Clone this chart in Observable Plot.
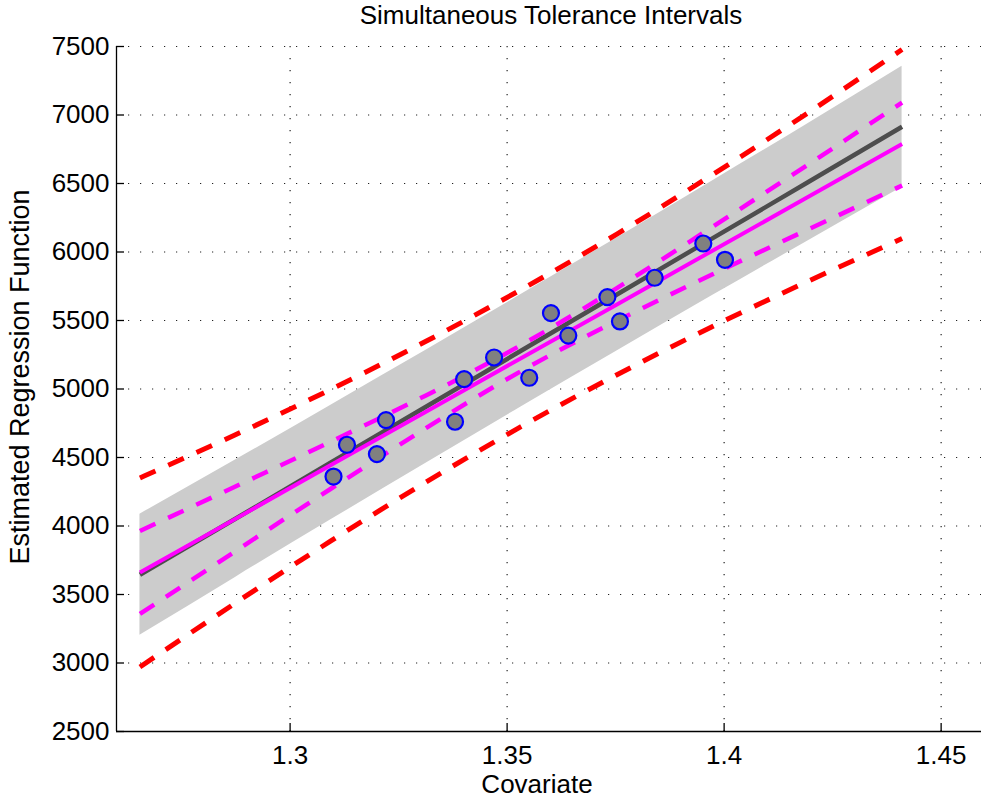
<!DOCTYPE html>
<html>
<head>
<meta charset="utf-8">
<script src="https://cdn.jsdelivr.net/npm/d3@7"></script>
<script src="https://cdn.jsdelivr.net/npm/@observablehq/plot@0.6"></script>
<style>
  body { margin: 0; background: #fff; font-family: "Liberation Sans", Arial, Helvetica, sans-serif; }
  #title { position: relative; width: 981px; height: 30px; }
  #title span { position: absolute; left: 551px; top: 1px; transform: translateX(-50%); font-size: 26px; line-height: 28px; white-space: nowrap; color: #000; }
  svg { display: block; }
</style>
</head>
<body>
<div id="title"><span>Simultaneous Tolerance Intervals</span></div>
<div id="chart"></div>
<script>
// Tick labels
const xTicks = [1.3, 1.35, 1.4, 1.45];
const yTicks = [2500, 3000, 3500, 4000, 4500, 5000, 5500, 6000, 6500, 7000, 7500];

// Observations
const obsX = [1.3100, 1.3131, 1.3200, 1.3221, 1.3380, 1.3401, 1.3470, 1.3551, 1.3601, 1.3641, 1.3760, 1.3731, 1.3840, 1.3952, 1.4002];
const obsY = [4361, 4593, 4525, 4773, 4761, 5072, 5230, 5082, 5554, 5390, 5493, 5671, 5812, 6062, 5943];

// Curves read along the covariate
const curveX     = [1.2654, 1.2874, 1.3093, 1.3313, 1.3532, 1.3752, 1.3971, 1.4191, 1.4410];
const fitBlack   = [3644, 4053, 4462, 4870, 5279, 5688, 6096, 6505, 6914];
const grayUpper  = [4086, 4481, 4880, 5282, 5689, 6100, 6515, 6933, 7356];
const grayLower  = [3202, 3625, 4043, 4458, 4869, 5276, 5678, 6077, 6472];
const fitMagenta = [3661, 4052, 4443, 4834, 5225, 5615, 6006, 6397, 6788];
const magUpper   = [3964, 4288, 4615, 4953, 5320, 5735, 6179, 6633, 7091];
const magLower   = [3358, 3816, 4270, 4714, 5130, 5496, 5834, 6161, 6485];
const redUpper   = [4351, 4666, 4996, 5348, 5725, 6129, 6560, 7011, 7478];
const redLower   = [2971, 3438, 3889, 4320, 4725, 5102, 5453, 5783, 6098];

const rows = curveX.map((x, i) => ({
  x, black: fitBlack[i], gu: grayUpper[i], gl: grayLower[i],
  mag: fitMagenta[i], mu: magUpper[i], ml: magLower[i],
  ru: redUpper[i], rl: redLower[i]
}));
const obs = obsX.map((x, i) => ({x, y: obsY[i]}));

const font = '"Liberation Sans", Arial, Helvetica, sans-serif';
const dash = "17,14";

const chart = Plot.plot({
  width: 981,
  height: 770,
  marginLeft: 116,
  marginRight: 0,
  marginTop: 16,
  marginBottom: 69,
  style: {fontFamily: font, fontSize: "26px", background: "#fff", color: "#000"},
  x: {domain: [1.26, 1.4593]},
  y: {domain: [2500, 7500]},
  marks: [
    Plot.ruleX(xTicks, {x: d => d, stroke: "#222", strokeWidth: 1.2, strokeDasharray: "1.2,10.8"}),
    Plot.ruleY(yTicks, {y: d => d, stroke: "#222", strokeWidth: 1.2, strokeDasharray: "1.2,10.8"}),
    Plot.areaY(rows, {x: "x", y1: "gl", y2: "gu", fill: "#cccccc", curve: "natural"}),
    Plot.line(rows, {x: "x", y: "ru", stroke: "#ff0000", strokeWidth: 5, strokeDasharray: dash, strokeLinecap: "butt", curve: "natural"}),
    Plot.line(rows, {x: "x", y: "rl", stroke: "#ff0000", strokeWidth: 5, strokeDasharray: dash, strokeLinecap: "butt", curve: "natural"}),
    Plot.line(rows, {x: "x", y: "black", stroke: "#4d4d4d", strokeWidth: 4.5, strokeLinecap: "butt"}),
    Plot.line(rows, {x: "x", y: "mag", stroke: "#ff00ff", strokeWidth: 4, strokeLinecap: "butt"}),
    Plot.line(rows, {x: "x", y: "mu", stroke: "#ff00ff", strokeWidth: 4.5, strokeDasharray: dash, strokeLinecap: "butt", curve: "natural"}),
    Plot.line(rows, {x: "x", y: "ml", stroke: "#ff00ff", strokeWidth: 4.5, strokeDasharray: dash, strokeLinecap: "butt", curve: "natural"}),
    Plot.dot(obs, {x: "x", y: "y", r: 8, fill: "#808080", stroke: "#0000ff", strokeWidth: 2.2}),
    Plot.ruleX([1.26], {stroke: "#000", strokeWidth: 1.3}),
    Plot.ruleY([2500], {stroke: "#000", strokeWidth: 1.3}),
    Plot.tickX(xTicks, {x: d => d, insetTop: 677, stroke: "#000", strokeWidth: 1.3}),
    Plot.tickY(yTicks, {y: d => d, insetRight: 857, stroke: "#000", strokeWidth: 1.3}),
    Plot.axisX({ticks: xTicks, tickFormat: d => String(d), tickSize: 0, tickPadding: 14, label: null, fontSize: 26}),
    Plot.axisY({ticks: yTicks, tickFormat: d => String(d), tickSize: 0, tickPadding: 7, label: null, fontSize: 26}),
    Plot.text(["Covariate"], {text: d => d, frameAnchor: "bottom", lineAnchor: "middle", textAnchor: "middle", dx: -12, dy: 53, fontSize: 26, fill: "#000"}),
    Plot.text(["Estimated Regression Function"], {text: d => d, frameAnchor: "left", lineAnchor: "middle", textAnchor: "middle", rotate: -90, dx: -96, dy: -12, fontSize: 27, fill: "#000"})
  ]
});
document.getElementById("chart").appendChild(chart);
</script>
</body>
</html>
